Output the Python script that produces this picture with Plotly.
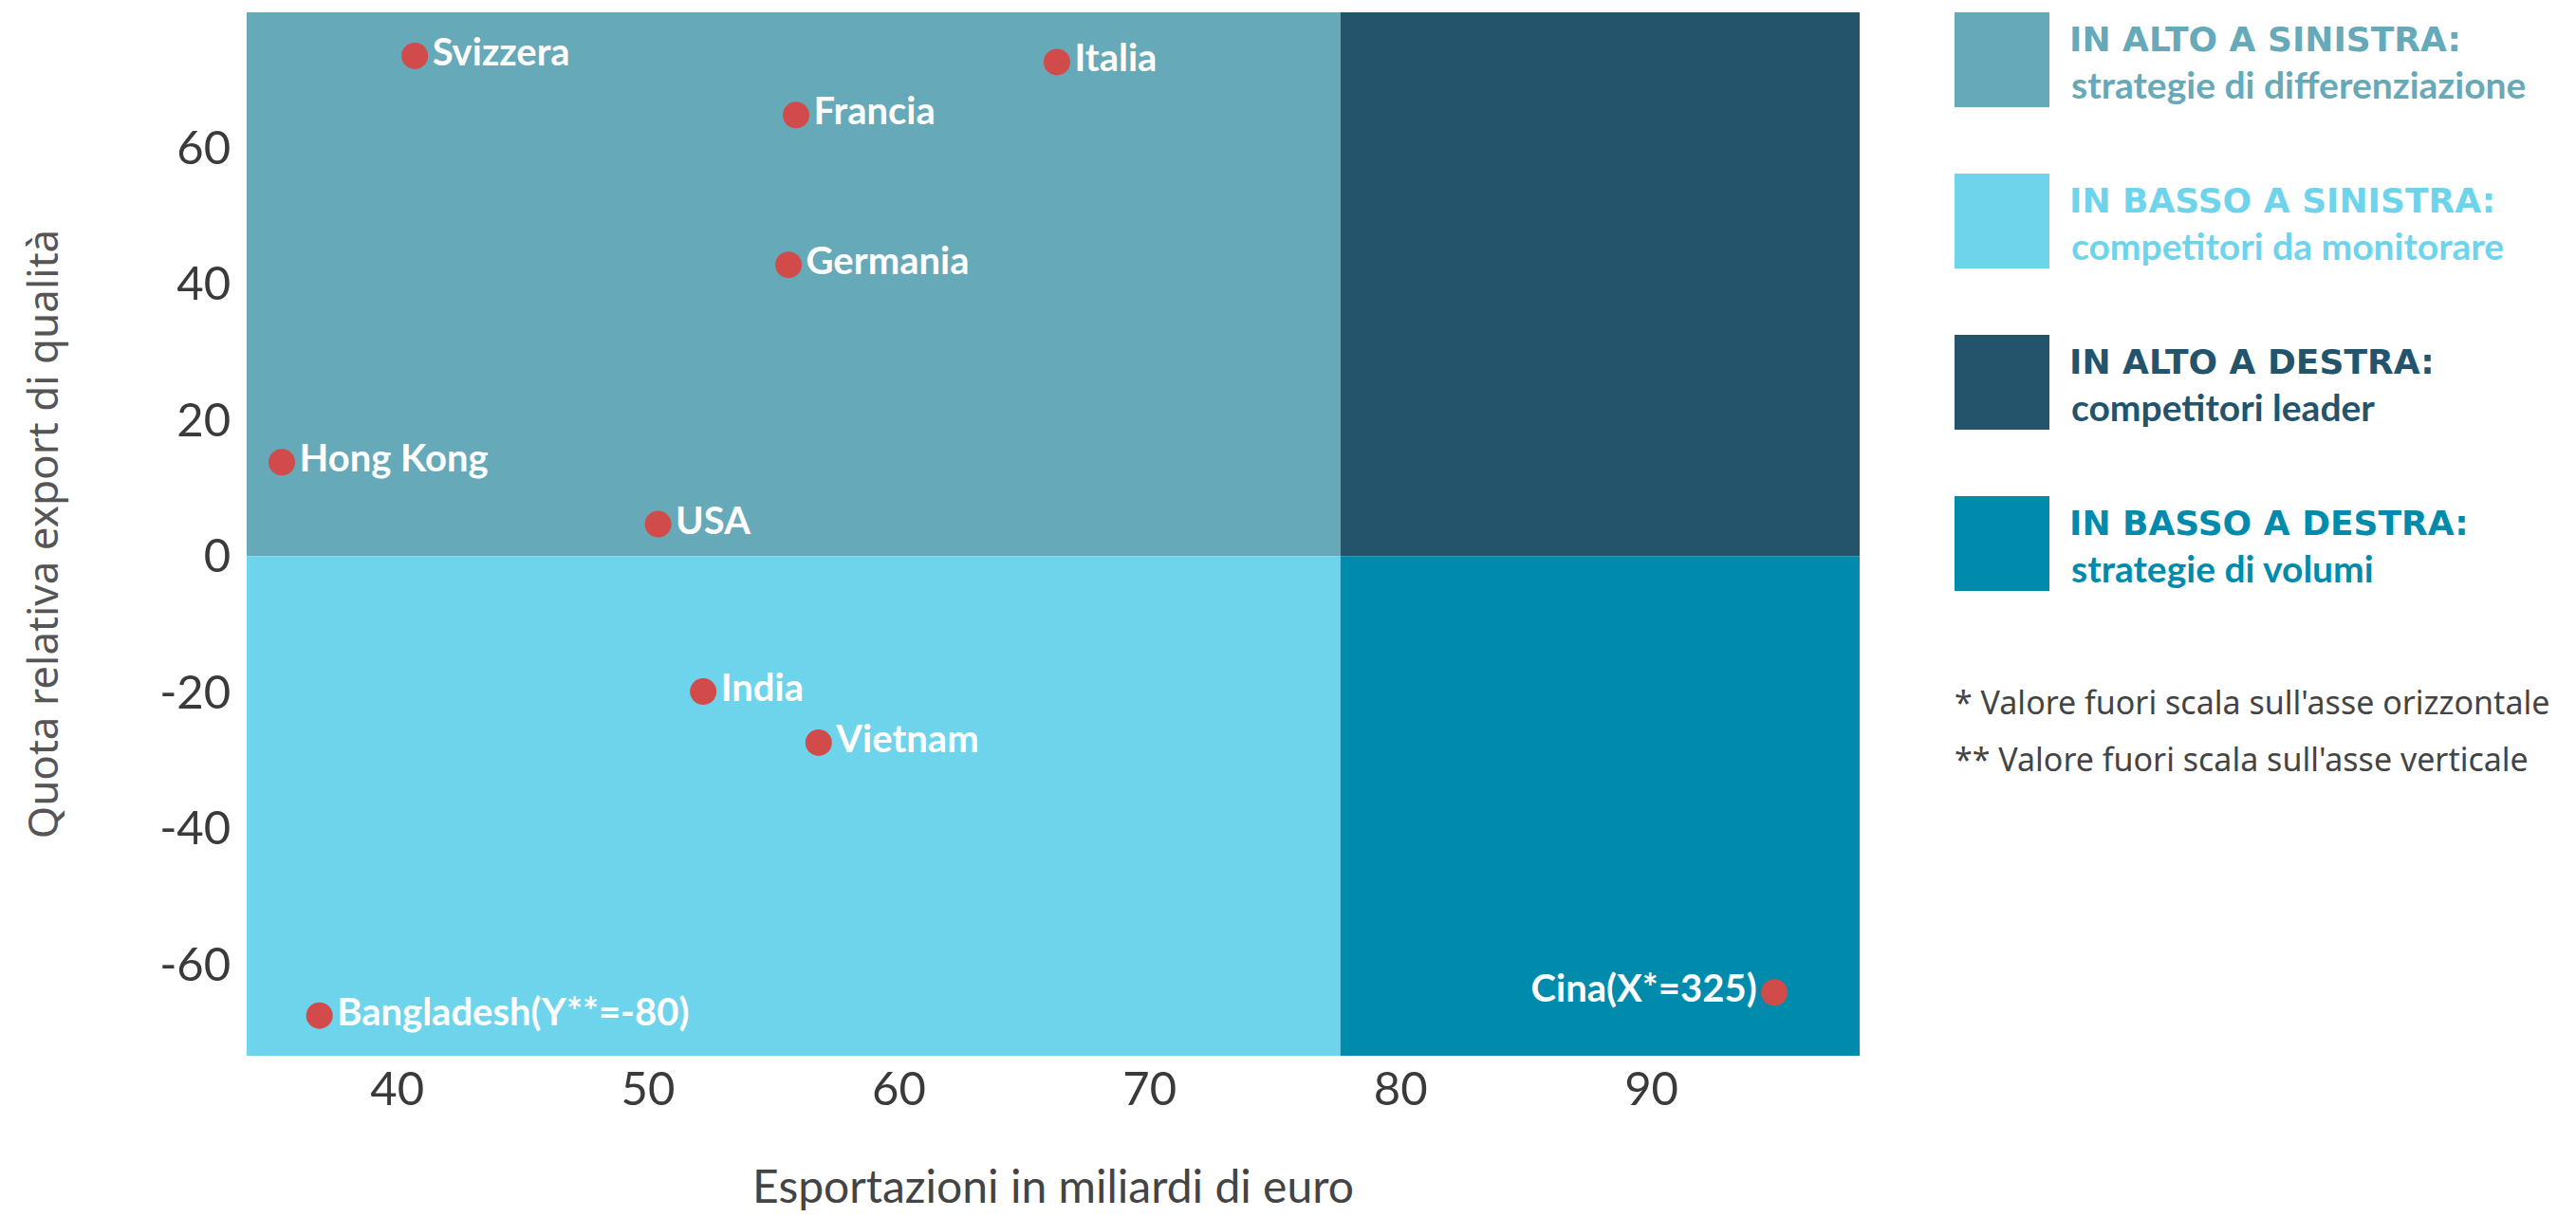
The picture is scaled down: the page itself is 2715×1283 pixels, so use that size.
import plotly.graph_objects as go

# data
countries = ["Svizzera", "Italia", "Francia", "Germania", "Hong Kong", "USA",
             "India", "Vietnam", "Bangladesh(Y**=-80)", "Cina(X*=325)"]
export_bn = [40.7, 66.3, 55.9, 55.6, 35.4, 50.4, 52.2, 56.8, 36.9, 94.9]
quality_share = [73.5, 72.6, 64.8, 42.8, 13.8, 4.7, -19.9, -27.4, -67.5, -64.1]
label_side = ["middle right"] * 9 + ["middle left"]

x_split = 77.6
y_split = 0
x_range = [34.0, 98.3]
y_range = [-73.4, 79.9]

x_ticks = [40, 50, 60, 70, 80, 90]
y_ticks = [-60, -40, -20, 0, 20, 40, 60]
y_ticktext = ["-60", "-40", "-20", "0", "20", "40", "60"]

quadrant_titles = ["IN ALTO A SINISTRA:", "IN BASSO A SINISTRA:",
                   "IN ALTO A DESTRA:", "IN BASSO A DESTRA:"]
quadrant_desc = ["strategie di differenziazione", "competitori da monitorare",
                 "competitori leader", "strategie di volumi"]
quadrant_colors = ["#66A9B9", "#6ED4EC", "#23546B", "#008BAC"]

footnotes = ["* Valore fuori scala sull'asse orizzontale",
             "** Valore fuori scala sull'asse verticale"]

# page body adds an 8px margin, so the figure is a bit smaller than the window
OFF = 8
W, H = 2700, 1270
ml, mr, mt, mb = 252, 748, 5, 165
pw, ph = W - ml - mr, H - mt - mb


def px(x):
    # screen pixel -> paper x
    return (x - OFF - ml) / pw


def py(y):
    # screen pixel -> paper y
    return (H - mb - (y - OFF)) / ph


fig = go.Figure()

# quadrants: top-left, bottom-left, top-right, bottom-right
quad_bounds = [
    (x_range[0], x_split, y_split, y_range[1]),
    (x_range[0], x_split, y_range[0], y_split),
    (x_split, x_range[1], y_split, y_range[1]),
    (x_split, x_range[1], y_range[0], y_split),
]
for (x0, x1, y0, y1), c in zip(quad_bounds, quadrant_colors):
    fig.add_shape(type="rect", xref="x", yref="y", x0=x0, x1=x1, y0=y0, y1=y1,
                  fillcolor=c, line=dict(width=0), layer="below")

fig.add_trace(go.Scatter(
    x=export_bn, y=quality_share, mode="markers+text",
    text=countries, textposition=label_side,
    marker=dict(size=28, color="#D14B4B"),
    textfont=dict(family="Lato", size=40, color="white", weight="bold"),
    cliponaxis=False, hoverinfo="skip", showlegend=False,
))

# legend boxes on the right
for i, (t, d, c) in enumerate(zip(quadrant_titles, quadrant_desc, quadrant_colors)):
    top = 13 + i * 170
    fig.add_shape(type="rect", xref="paper", yref="paper",
                  x0=px(2060), x1=px(2160), y0=py(top + 100), y1=py(top),
                  fillcolor=c, line=dict(width=0))
    fig.add_annotation(xref="paper", yref="paper", x=px(2179), y=py(top + 28),
                       xanchor="left", yanchor="middle", showarrow=False,
                       text=f"<b>{t}</b>",
                       font=dict(family="DejaVu Sans", size=36, color=c))
    fig.add_annotation(xref="paper", yref="paper", x=px(2181), y=py(top + 76),
                       xanchor="left", yanchor="middle", showarrow=False,
                       text=f"<b>{d}</b>",
                       font=dict(family="Lato", size=39, color=c))

for i, note in enumerate(footnotes):
    fig.add_annotation(xref="paper", yref="paper", x=px(2058), y=py(740 + i * 60),
                       xanchor="left", yanchor="middle", showarrow=False, text=note,
                       font=dict(family="Noto Sans", size=34, color="#444444"))

fig.update_xaxes(range=x_range, tickvals=x_ticks, showgrid=False, zeroline=False,
                 ticks="", ticklabelstandoff=2,
                 tickfont=dict(family="Lato", size=49, color="#3a3a3a"),
                 title=dict(text="Esportazioni in miliardi di euro", standoff=76,
                            font=dict(family="Lato", size=48, color="#444444")))
fig.update_yaxes(range=y_range, tickvals=y_ticks, ticktext=y_ticktext,
                 showgrid=False, zeroline=False,
                 ticks="outside", ticklen=6, tickcolor="rgba(0,0,0,0)",
                 tickfont=dict(family="Lato", size=49, color="#3a3a3a"),
                 title=dict(text="Quota relativa export di qualità", standoff=92,
                            font=dict(family="Noto Sans", size=44, color="#555555")))

fig.update_layout(
    width=W, height=H,
    margin=dict(l=ml, r=mr, t=mt, b=mb, autoexpand=False),
    plot_bgcolor="white", paper_bgcolor="white",
    showlegend=False,
)

fig.write_html("out.html")
